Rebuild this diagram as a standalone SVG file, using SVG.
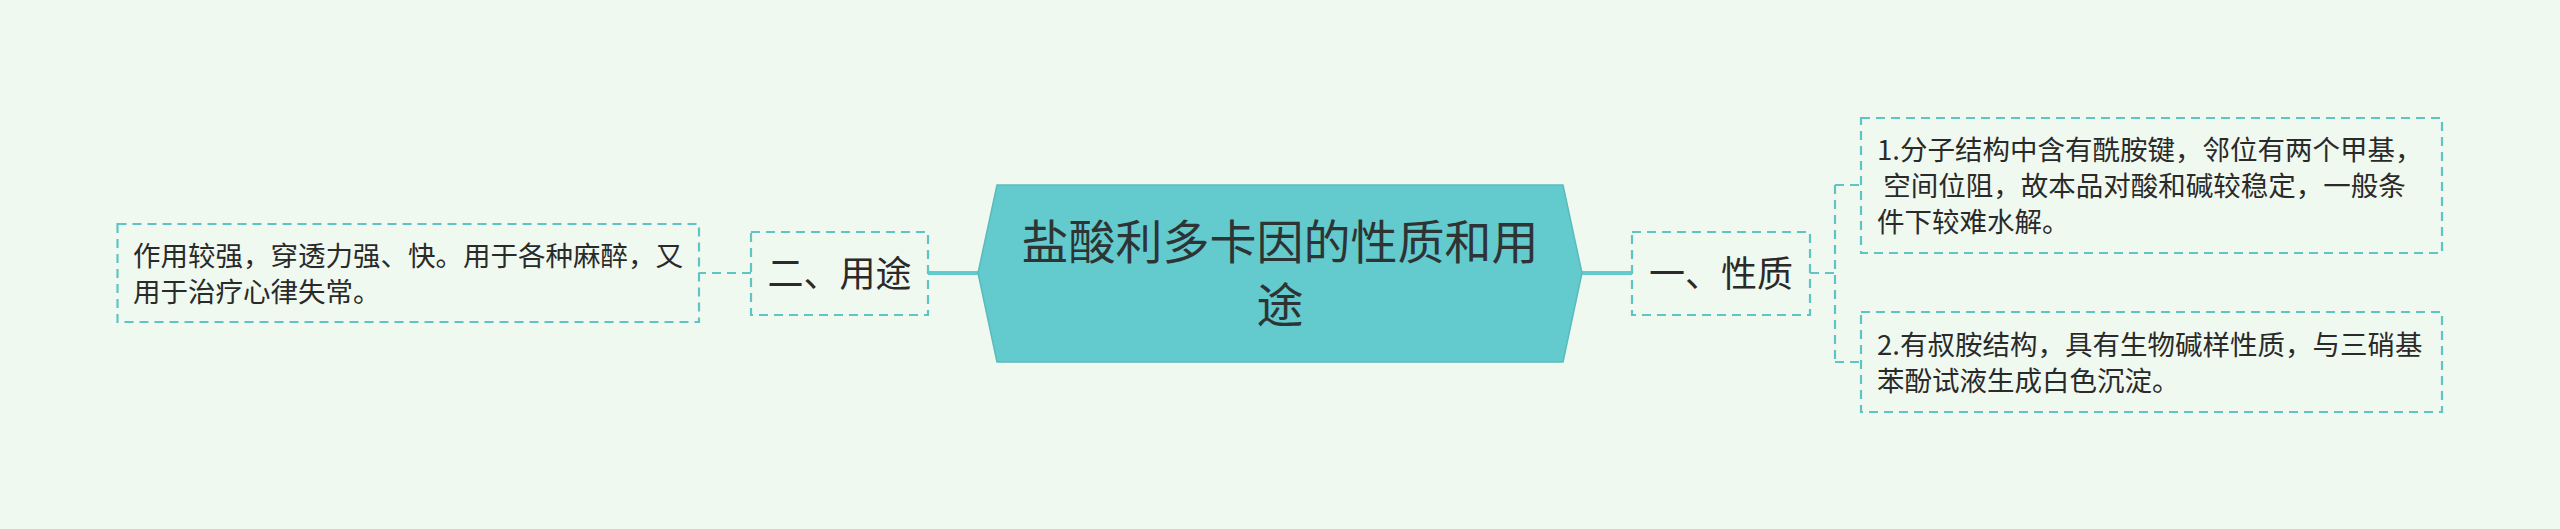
<svg xmlns="http://www.w3.org/2000/svg" width="2560" height="529" viewBox="0 0 2560 529">
  <style>
    .bg { fill: #f0f9ef; }
    .main { fill: #63cacd; stroke: #59bbbe; stroke-width: 1.5; }
    .title { font-family: "Noto Sans CJK SC", "Noto Sans", sans-serif; font-size: 47px; fill: #2e3434; text-anchor: middle; }
    .box { fill: none; stroke: #60c3c6; stroke-width: 2.2; stroke-dasharray: 9 6; }
    .lbl { font-family: "Noto Sans CJK SC", "Noto Sans", sans-serif; font-size: 36px; fill: #2a2a2a; text-anchor: middle; }
    .txt { font-family: "Noto Sans CJK SC", "Noto Sans", sans-serif; font-size: 27.5px; fill: #2a2a2a; }
    .solid { stroke: #63cacd; stroke-width: 4; fill: none; }
    .dash { stroke: #60c3c6; stroke-width: 2.2; stroke-dasharray: 9 6; fill: none; }
  </style>
  <rect class="bg" x="0" y="0" width="2560" height="529"/>

  <g id="connectors">
    <line class="solid" x1="1580" y1="273" x2="1632" y2="273"/>
    <line class="solid" x1="980" y1="273" x2="928" y2="273"/>
    <line class="dash" x1="1810" y1="273" x2="1835" y2="273"/>
    <line class="dash" x1="1835" y1="185" x2="1835" y2="362"/>
    <line class="dash" x1="1835" y1="185" x2="1861" y2="185"/>
    <line class="dash" x1="1835" y1="362" x2="1861" y2="362"/>
    <line class="dash" x1="751" y1="273" x2="699" y2="273"/>
  </g>

  <g id="root">
    <polygon class="main" points="997,185 1563,185 1582,273 1563,362 997,362 978,273"/>
    <text class="title" x="1280" y="259">盐酸利多卡因的性质和用</text>
    <text class="title" x="1280" y="322">途</text>
  </g>

  <g id="node-xingzhi">
    <rect class="box" x="1632" y="232" width="178" height="83"/>
    <text class="lbl" x="1721" y="286.5">一、性质</text>
  </g>

  <g id="node-yongtu">
    <rect class="box" x="751" y="232" width="177" height="83"/>
    <text class="lbl" x="839.5" y="286.5">二、用途</text>
  </g>

  <g id="node-xingzhi-1">
    <rect class="box" x="1861" y="118" width="581" height="135"/>
    <text class="txt" x="1877" y="160">1.分子结构中含有酰胺键，邻位有两个甲基，</text>
    <text class="txt" x="1877" y="196" xml:space="preserve"> 空间位阻，故本品对酸和碱较稳定，一般条</text>
    <text class="txt" x="1877" y="232">件下较难水解。</text>
  </g>

  <g id="node-xingzhi-2">
    <rect class="box" x="1861" y="312" width="581" height="100"/>
    <text class="txt" x="1877" y="354.5">2.有叔胺结构，具有生物碱样性质，与三硝基</text>
    <text class="txt" x="1877" y="390.5">苯酚试液生成白色沉淀。</text>
  </g>

  <g id="node-yongtu-1">
    <rect class="box" x="117.5" y="224" width="581.5" height="98"/>
    <text class="txt" x="133" y="265.5">作用较强，穿透力强、快。用于各种麻醉，又</text>
    <text class="txt" x="133" y="301.5">用于治疗心律失常。</text>
  </g>
</svg>
